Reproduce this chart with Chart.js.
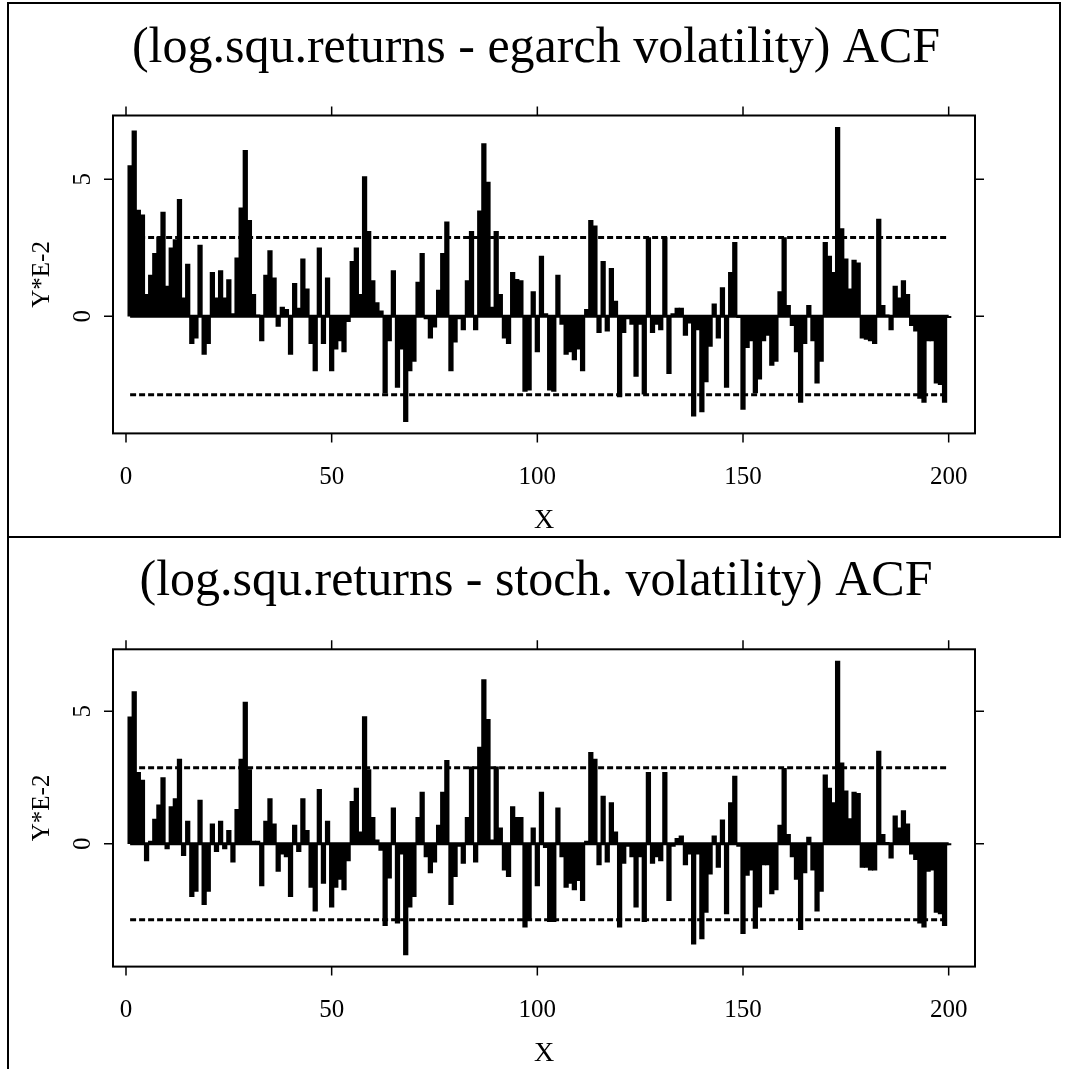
<!DOCTYPE html>
<html>
<head>
<meta charset="utf-8">
<script src="https://cdn.jsdelivr.net/npm/chart.js@4.4.0/dist/chart.umd.min.js"></script>
<style>
  html, body { margin: 0; padding: 0; background: #fff; }
  #page { position: relative; width: 1068px; height: 1069px; overflow: hidden; background: #fff; }
  canvas { position: absolute; left: 0; }
  .rule { position: absolute; background: #000; }
</style>
</head>
<body>
<div id="page">
  <canvas id="egarch" width="1068" height="537" style="top:0"></canvas>
  <canvas id="stoch" width="1068" height="532" style="top:537px"></canvas>
  <div class="rule" style="left:7px;top:2px;width:1054px;height:2px"></div>
  <div class="rule" style="left:7px;top:2px;width:2px;height:1067px"></div>
  <div class="rule" style="left:1059px;top:2px;width:2px;height:536px"></div>
  <div class="rule" style="left:7px;top:536px;width:1054px;height:2px"></div>
</div>
<script>
(function(){

    // lag axis: 1..200
    const lags = Array.from({ length: 200 }, (_, i) => i + 1);

    // ACF of log squared returns minus egarch volatility (x 1E-2)
    const egarchAcf = [
        5.5, 6.77, 3.88, 3.7, 0.8, 1.5, 2.3, 2.9, 3.8, 1.1,
        2.5, 2.8, 4.27, 0.67, 1.9, -1.0, -0.8, 2.6, -1.4, -1.0,
        1.6, 0.67, 1.67, 0.67, 1.34, 0.1, 2.13, 3.96, 6.06, 3.5,
        0.8, 0.05, -0.9, 1.5, 2.4, 1.4, -0.37, 0.33, 0.25, -1.4,
        1.2, 0.3, 2.1, 1.0, -1.0, -2.0, 2.5, -1.0, 1.4, -2.0,
        -1.2, -0.9, -1.3, -0.2, 2.0, 2.5, 0.8, 5.1, 3.1, 1.3,
        0.5, 0.2, -2.8, -0.9, 1.67, -2.6, -1.2, -3.85, -2.0, -1.65,
        1.25, 2.3, -0.1, -0.8, -0.4, 0.95, 2.3, 3.45, -2.0, -0.95,
        -0.1, -0.5, 1.3, 3.1, -0.5, 3.85, 6.3, 4.9, 0.33, 3.1,
        0.8, -0.8, -1.0, 1.6, 1.35, 1.3, -2.75, -2.7, 0.9, -1.3,
        2.2, 0.1, -2.7, -2.75, 1.5, -0.3, -1.4, -1.3, -1.6, -1.2,
        -2.0, 0.25, 3.5, 3.3, -0.6, 2.0, -0.55, 1.75, 0.55, -2.95,
        -0.6, -0.1, -0.3, -2.2, -0.3, -2.85, 2.87, -0.6, -0.3, -0.5,
        2.87, -2.1, 0.1, 0.3, 0.3, -0.7, -0.25, -3.65, -0.5, -3.5,
        -2.4, -1.1, 0.45, -0.8, 1.05, -2.6, 1.6, 2.7, -0.05, -3.4,
        -1.15, -0.9, -2.8, -2.3, -0.9, -0.7, -1.8, -1.65, 0.9, 2.87,
        0.4, -0.35, -1.3, -3.15, -1.0, 0.4, -0.9, -2.45, -1.65, 2.7,
        2.2, 1.6, 6.9, 3.2, 2.1, 1.0, 2.05, 1.95, -0.8, -0.85,
        -0.9, -1.0, 3.55, 0.4, 0.05, -0.5, 1.1, 0.67, 1.3, 0.8,
        -0.35, -0.55, -3.0, -3.15, -0.9, -0.9, -2.45, -2.5, -3.15, -0.05
    ];

    // ACF of log squared returns minus stochastic volatility (x 1E-2)
    const stochAcf = [
        4.79, 5.75, 2.7, 2.4, -0.65, 0.1, 0.93, 1.47, 2.5, -0.2,
        1.4, 1.7, 3.2, -0.45, 0.85, -2.0, -1.8, 1.65, -2.3, -1.8,
        0.75, -0.3, 0.85, -0.2, 0.5, -0.7, 1.3, 3.2, 5.35, 2.8,
        0.1, 0.1, -1.6, 0.85, 1.7, 0.75, -1.05, -0.4, -0.5, -2.0,
        0.7, -0.3, 1.7, 0.5, -1.65, -2.55, 2.05, -1.5, 0.85, -2.4,
        -1.65, -1.35, -1.75, -0.65, 1.6, 2.1, 0.45, 4.8, 2.8, 1.0,
        0.15, -0.25, -3.1, -1.3, 1.35, -3.0, -0.4, -4.2, -2.4, -2.0,
        1.0, 1.95, -0.5, -1.1, -0.7, 0.7, 1.95, 3.15, -2.3, -1.25,
        -0.1, -0.75, 1.0, 2.9, -0.7, 3.65, 6.2, 4.7, 0.15, 2.9,
        0.6, -1.0, -1.25, 1.4, 1.0, 1.0, -3.15, -2.9, 0.6, -1.6,
        1.95, -0.15, -2.95, -2.95, 1.35, -0.5, -1.65, -1.5, -1.75, -1.4,
        -2.15, 0.1, 3.45, 3.2, -0.8, 1.8, -0.7, 1.55, 0.45, -3.15,
        -0.75, -0.1, -0.5, -2.4, -0.5, -2.95, 2.7, -0.75, -0.5, -0.65,
        2.7, -2.15, -0.1, 0.2, 0.3, -0.8, -0.4, -3.8, -0.4, -3.6,
        -2.6, -1.15, 0.3, -0.9, 0.9, -2.65, 1.55, 2.55, -0.1, -3.4,
        -1.2, -1.0, -3.2, -2.4, -0.8, -0.8, -1.9, -1.75, 0.7, 2.85,
        0.35, -0.5, -1.35, -3.25, -1.1, 0.25, -1.0, -2.55, -1.8, 2.6,
        2.1, 1.55, 6.9, 3.05, 2.0, 0.95, 1.95, 1.9, -0.9, -0.9,
        -1.0, -1.0, 3.5, 0.35, 0.05, -0.55, 1.05, 0.6, 1.25, 0.75,
        -0.4, -0.6, -3.0, -3.15, -1.05, -1.0, -2.6, -2.65, -3.1, -0.05
    ];

    const ciBound = 2.87;
    const xTicks = [0, 50, 100, 150, 200];
    const yTicks = [0, 5];
    const xLabel = 'X';
    const yLabel = 'Y*E-2';
    const serif = '"Liberation Serif", "Times New Roman", serif';

    // y range padded 4% each side, like the default R axis
    const rangeOf = vals => {
        const lo = Math.min(...vals), hi = Math.max(...vals);
        const pad = (hi - lo) * 0.04;
        return [lo - pad, hi + pad];
    };

    const rFrame = {
        id: 'rFrame',
        afterDraw(chart, args, opts) {
            const { ctx, chartArea: a, scales: { x, y } } = chart;
            ctx.save();
            ctx.strokeStyle = '#000';
            ctx.fillStyle = '#000';

            ctx.lineWidth = 2;
            ctx.strokeRect(a.left, a.top, a.right - a.left, a.bottom - a.top);

            ctx.lineWidth = 1.5;
            ctx.beginPath();
            xTicks.forEach(v => {
                const px = x.getPixelForValue(v);
                ctx.moveTo(px, a.bottom); ctx.lineTo(px, a.bottom + 9);
                ctx.moveTo(px, a.top); ctx.lineTo(px, a.top - 9);
            });
            yTicks.forEach(v => {
                const py = y.getPixelForValue(v);
                ctx.moveTo(a.left, py); ctx.lineTo(a.left - 9, py);
                ctx.moveTo(a.right, py); ctx.lineTo(a.right + 9, py);
            });
            ctx.stroke();

            ctx.textAlign = 'center';
            ctx.textBaseline = 'middle';
            ctx.font = `25px ${serif}`;
            xTicks.forEach(v => ctx.fillText(String(v), x.getPixelForValue(v), a.bottom + 44));
            yTicks.forEach(v => {
                ctx.save();
                ctx.translate(a.left - 30, y.getPixelForValue(v));
                ctx.rotate(-Math.PI / 2);
                ctx.fillText(String(v), 0, 0);
                ctx.restore();
            });

            ctx.save();
            ctx.translate(42, (a.top + a.bottom) / 2);
            ctx.rotate(-Math.PI / 2);
            ctx.fillText(yLabel, 0, 0);
            ctx.restore();

            ctx.font = `28px ${serif}`;
            ctx.fillText(xLabel, (a.left + a.right) / 2, a.bottom + 87);

            ctx.font = `50px ${serif}`;
            ctx.fillText(opts.title, chart.width / 2 + 2, a.top - 67);
            ctx.restore();
        }
    };

    const hline = (yv, dash, width) => ({
        type: 'line',
        data: [{ x: 1, y: yv }, { x: 200, y: yv }],
        borderColor: '#000',
        borderWidth: width,
        borderDash: dash,
        borderCapStyle: 'butt',
        pointRadius: 0,
        order: 2
    });

    const createChart = (id, values, title, padding) => {
        const [ymin, ymax] = rangeOf(values);
        return new Chart(document.getElementById(id), {
            type: 'bar',
            data: {
                datasets: [
                    hline(0, [], 3),
                    hline(ciBound, [6, 3], 3),
                    hline(-ciBound, [6, 3], 3),
                    {
                        type: 'bar',
                        data: lags.map((lag, i) => ({ x: lag, y: values[i] })),
                        backgroundColor: '#000',
                        borderWidth: 0,
                        barThickness: 4.6,
                        order: 1
                    }
                ]
            },
            options: {
                responsive: false,
                animation: false,
                devicePixelRatio: 1,
                layout: { padding },
                plugins: {
                    legend: { display: false },
                    tooltip: { enabled: false },
                    rFrame: { title }
                },
                scales: {
                    x: { type: 'linear', min: -3.16, max: 206.4, offset: false, display: false },
                    y: { type: 'linear', min: ymin, max: ymax, display: false }
                }
            },
            plugins: [rFrame]
        });
    };

    createChart('egarch', egarchAcf, '(log.squ.returns - egarch volatility) ACF',
        { left: 113, right: 93, top: 115.5, bottom: 103.6 });
    createChart('stoch', stochAcf, '(log.squ.returns - stoch. volatility) ACF',
        { left: 113, right: 93, top: 112.3, bottom: 102.4 });
})()
</script>
</body>
</html>
